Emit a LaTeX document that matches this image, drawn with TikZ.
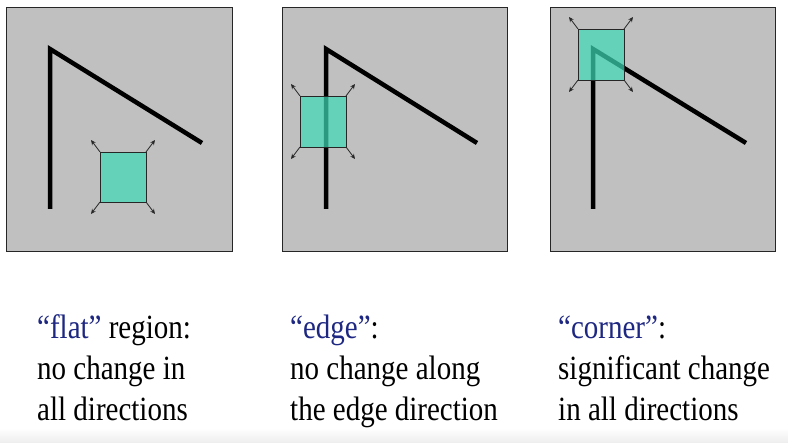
\documentclass[tikz,border=0pt]{standalone}
\usepackage{fontspec}
\setmainfont{Liberation Serif}
\usetikzlibrary{arrows.meta}

\definecolor{panelgray}{RGB}{192,192,192}
\definecolor{patchteal}{RGB}{60,218,182}
\definecolor{quoteblue}{RGB}{30,40,130}

\tikzset{
  panel/.style={fill=panelgray, draw=black!85, line width=0.8pt},
  stroke/.style={line width=4.5pt, line cap=butt, line join=miter},
  patch/.style={fill=patchteal, fill opacity=0.7, draw=black!85, line width=0.8pt},
  shift arrow/.style={-{Stealth[length=5pt,width=4.5pt]}, line width=0.8pt, black!85},
  caption/.style={anchor=north west, inner sep=0pt, font=\fontsize{29}{35}\selectfont}
}
\newcommand{\hl}[1]{\textcolor{quoteblue}{#1}}
\newcommand{\capt}[1]{\scalebox{1}[1.17]{\begin{tabular}{@{}l@{}}#1\end{tabular}}}

\begin{document}
\begin{tikzpicture}[x=1pt,y=-1pt]
        \useasboundingbox (0,0) rectangle (788,443);
        \fill[white] (0,0) rectangle (788,443);
        \shade[top color=white, bottom color=black!7] (0,428) rectangle (788,443);

        % panels
        \draw[panel] (6,7) rectangle (232,251);
        \draw[panel] (282,7) rectangle (507,251);
        \draw[panel] (550,7) rectangle (775,251);

        % the corner shape in every panel
        \draw[stroke] (50,209) -- (50,49) -- (202,143);
        \draw[stroke] (326,209) -- (326,49) -- (477,143);
        \draw[stroke] (593,209) -- (593,49) -- (746,143);

        % windows and their shifts
        \foreach \xa/\ya/\xb/\yb/\n in {100/152/146/202/flat, 300/96/346/147/edge, 578/29/624/80/corner} {
          \draw[patch] (\xa,\ya) rectangle (\xb,\yb);
          \coordinate (\n-nw) at (\xa,\ya);
          \coordinate (\n-ne) at (\xb,\ya);
          \coordinate (\n-sw) at (\xa,\yb);
          \coordinate (\n-se) at (\xb,\yb);
          \draw[shift arrow] (\n-nw) -- ++(-9,-12);
          \draw[shift arrow] (\n-ne) -- ++(9,-12);
          \draw[shift arrow] (\n-sw) -- ++(-9,12);
          \draw[shift arrow] (\n-se) -- ++(9,12);
        }

        % captions
        \node[caption] (flatcap) at (37,310) {\capt{\hl{``flat''} region:\\no change in\\all directions}};
        \node[caption] (edgecap) at (290,310) {\capt{\hl{``edge''}:\\no change along\\the edge direction}};
        \node[caption] (cornercap) at (558,310) {\capt{\hl{``corner''}:\\significant change\\in all directions}};
    \end{tikzpicture}
\end{document}
